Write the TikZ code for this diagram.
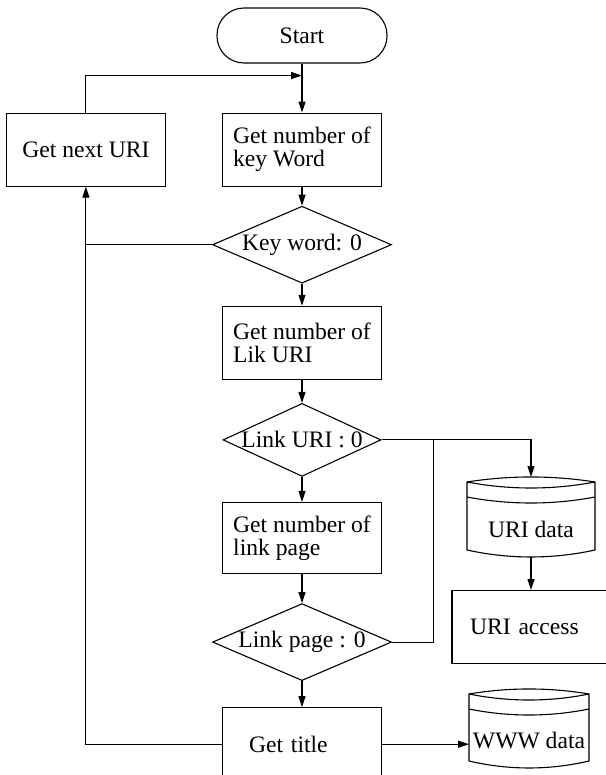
\documentclass[tikz,border=0pt]{standalone}
\usepackage{fontspec}
\setmainfont{Liberation Serif}
\usepackage{tikz}
\usetikzlibrary{calc}
\usetikzlibrary{positioning}
\usetikzlibrary{shapes.geometric, arrows.meta}
\tikzstyle{startstop} = [draw, rectangle, rounded corners=27pt, minimum width=170pt, minimum height=55pt]
\tikzstyle{process} = [draw, rectangle, minimum width=159pt, minimum height=73pt, align=left]
\tikzstyle{decision} = [draw, diamond, minimum width=179pt, minimum height=77pt, inner sep=0pt]
\tikzstyle{store} = [rectangle, minimum width=128pt, minimum height=80pt, inner sep=0pt, outer sep=0pt, text height=44pt, text depth=4pt]
\tikzstyle{arrow} = [->,>={Triangle[length=11pt,width=7pt]}]
% text of a decision does not widen the diamond
\newcommand{\condtext}[1]{\makebox[0pt]{#1}}
% drum outline for a data store node
\newcommand{\storedrum}[1]{%
	\draw ([yshift=-5pt]#1.north west)
		.. controls ($(#1.north west)!0.33!(#1.north east)+(0,1.7pt)$) and ($(#1.north west)!0.67!(#1.north east)+(0,1.7pt)$) .. ([yshift=-5pt]#1.north east)
		-- ([yshift=7pt]#1.south east)
		.. controls ($(#1.south west)!0.67!(#1.south east)+(0,-2.3pt)$) and ($(#1.south west)!0.33!(#1.south east)+(0,-2.3pt)$) .. ([yshift=7pt]#1.south west)
		-- cycle;
	\draw ([yshift=-5pt]#1.north west)
		.. controls ($(#1.north west)!0.33!(#1.north east)+(0,-13pt)$) and ($(#1.north west)!0.67!(#1.north east)+(0,-13pt)$) .. ([yshift=-5pt]#1.north east);
	\draw ([yshift=-20pt]#1.north west)
		.. controls ($(#1.north west)!0.33!(#1.north east)+(0,-28pt)$) and ($(#1.north west)!0.67!(#1.north east)+(0,-28pt)$) .. ([yshift=-20pt]#1.north east);
}

\begin{document}
\begin{tikzpicture}[x=1pt,y=1pt,line width=1.1pt,every node/.style={font=\fontsize{23.6pt}{23pt}\selectfont}]
	\useasboundingbox (0,0) rectangle (605,-775);
	\node[startstop] (start) at (302,-35.5) {Start};
	\node[process,below=49pt of start] (keyword) {Get number of\\key Word};
	\node[process,left=56pt of keyword] (nexturi) {Get next URI};
	\node[decision,below=19pt of keyword] (keyzero) {\condtext{Key word: 0}};
	\node[process,below=22pt of keyzero] (linkuri) {Get number of\\Lik URI};
	\node[decision,below=23pt of linkuri,minimum width=158pt,minimum height=73pt] (urizero) {\condtext{Link URI : 0}};
	\node[process,below=25pt of urizero,minimum height=71pt] (linkpage) {Get number of\\link page};
	\node[decision,below=29pt of linkpage] (pagezero) {\condtext{Link page : 0}};
	\node[process,below=26pt of pagezero,text width=106pt] (title) {Get title};
	\node[store] (uridata) at (531,-517) {URI data};
	\node[process,below=33pt of uridata,minimum width=158pt,text width=122pt] (uriaccess) {URI access};
	\node[store,minimum width=120pt,minimum height=79pt] (wwwdata) at (529,-728.5) {WWW data};
	\storedrum{uridata}
	\storedrum{wwwdata}
	\coordinate[above=37pt of keyword.north] (merge);
	\coordinate[right=52pt of urizero.east] (tap);
	\draw[arrow] (start) -- (keyword);
	\draw[arrow] (nexturi.north) |- (merge);
	\draw[arrow] (keyword) -- (keyzero);
	\draw (keyzero.west) -- (keyzero.west -| nexturi.south);
	\draw[arrow] (title.west) -| (nexturi.south);
	\draw[arrow] (keyzero) -- (linkuri);
	\draw[arrow] (linkuri) -- (urizero);
	\draw[arrow] (urizero) -- (linkpage);
	\draw[arrow] (linkpage) -- (pagezero);
	\draw[arrow] (pagezero) -- (title);
	\draw[arrow] (urizero.east) -| (uridata.north);
	\draw (pagezero.east) -| (tap);
	\draw[arrow] (uridata.south) -- (uriaccess.north);
	\draw[arrow] (title.east) -- (title.east -| wwwdata.west);
\end{tikzpicture}
\end{document}
